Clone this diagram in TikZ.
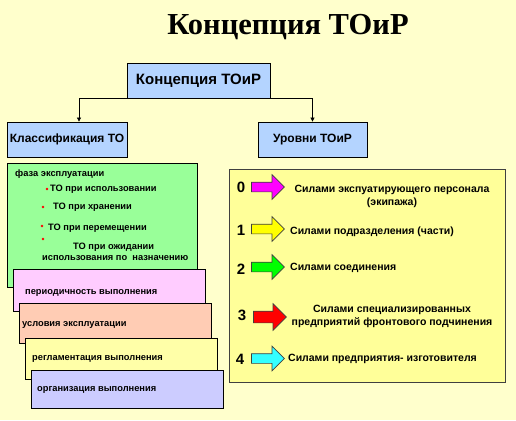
\documentclass[tikz,border=0pt]{standalone}
\usepackage{fontspec}
\setmainfont{Liberation Sans}
\newfontfamily\titlefont{Liberation Serif}
\usetikzlibrary{positioning,shapes.arrows,arrows.meta}
\definecolor{bgcream}{HTML}{FFFFCC}
\definecolor{boxblue}{HTML}{B4D4FF}
\definecolor{phasegreen}{HTML}{99FF99}
\definecolor{subpink}{HTML}{FFCCFF}
\definecolor{subpeach}{HTML}{FFCCB4}
\definecolor{subyellow}{HTML}{FFFFA8}
\definecolor{sublilac}{HTML}{CCCCFF}
\definecolor{levyellow}{HTML}{FFFF99}
\definecolor{edgegrey}{HTML}{404040}
\definecolor{arrmagenta}{HTML}{FF00FF}
\definecolor{arryellow}{HTML}{FFFF00}
\definecolor{arrgreen}{HTML}{00FF00}
\definecolor{arrred}{HTML}{FF0000}
\definecolor{arrcyan}{HTML}{33FFFF}
\tikzset{
  hbox/.style={draw=black, fill=boxblue, line width=0.8pt, inner sep=0pt,
               font=\bfseries\fontsize{12}{14}\selectfont},
  sbox/.style={draw=black, line width=0.8pt, inner sep=0pt,
               minimum width=192pt},
  txt/.style={inner sep=0pt, font=\bfseries\fontsize{9.3}{11}\selectfont},
  ltxt/.style={inner sep=0pt, align=center,
               font=\bfseries\fontsize{10.5}{13}\selectfont},
  lnum/.style={inner sep=0pt, font=\bfseries\fontsize{15}{17}\selectfont},
  larrow/.style={single arrow, draw=edgegrey, line width=0.7pt,
                 inner xsep=0pt, inner ysep=4.5pt,
                 minimum height=33pt, minimum width=24pt,
                 single arrow head extend=7.5pt, single arrow head indent=0pt},
  rdot/.style={circle, fill=arrred, inner sep=0pt, minimum size=2.6pt},
  link/.style={line width=0.7pt, draw=black,
               -{Triangle[length=4pt, width=4pt]}}
}
\begin{document}
\begin{tikzpicture}[x=1pt, y=-1pt]
  \fill[bgcream] (0,0) rectangle (516,420);
  \useasboundingbox (0,0) rectangle (516,420);
  % title and tree
  \node[font=\titlefont\bfseries\fontsize{30.5}{34}\selectfont] (title) at (288,27) {Концепция ТОиР};
  \node[hbox, minimum width=143pt, minimum height=35pt,
        font=\bfseries\fontsize{15}{17}\selectfont] (top) at (198.5,80.5) {Концепция ТОиР};
  \node[hbox, minimum width=120pt, minimum height=35pt] (klass) at (67,139.5) {Классификация ТО};
  \node[hbox, minimum width=109pt, minimum height=35pt] (urov) at (312.5,139.5) {Уровни ТОиР};
  \draw[link] (top.south) -| ([xshift=12pt]klass.north);
  \draw[link] (top.south) -| (urov.north);
  % phase box
  \node[sbox, fill=phasegreen, minimum width=190pt, minimum height=124pt] (phase) at (102,225) {};
  \node[txt, anchor=west] (phtitle) at (15,174) {фаза эксплуатации};
  \node[rdot] (b1) at (47,189) {};
  \node[rdot] (b2) at (43,207) {};
  \node[rdot] (b3) at (42,226) {};
  \node[rdot] (b4) at (43,239) {};
  \node[txt, anchor=west] (ph1) at (50,189) {ТО при использовании};
  \node[txt, anchor=west] (ph2) at (53,207) {ТО при хранении};
  \node[txt, anchor=west] (ph3) at (48,228) {ТО при перемещении};
  \node[txt, anchor=west] (ph4) at (73,247) {ТО при ожидании};
  \node[txt, anchor=west] (ph5) at (42,258) {использования по\ \ назначению};
  % stacked boxes
  \node[sbox, fill=subpink, minimum height=42pt] (period) at (109,290) {};
  \node[txt, anchor=west] (periodt) at (25,293) {периодичность выполнения};
  \node[sbox, fill=subpeach, minimum height=40pt] (uslov) at (115,323) {};
  \node[txt, anchor=west] (uslovt) at (22,325) {условия эксплуатации};
  \node[sbox, fill=subyellow, minimum height=41pt] (reglam) at (121,358.5) {};
  \node[txt, anchor=west] (reglamt) at (32,359) {регламентация выполнения};
  \node[sbox, fill=sublilac, minimum height=38pt] (organ) at (127,389) {};
  \node[txt, anchor=west] (organt) at (37,390) {организация выполнения};
  % levels box
  \node[draw=edgegrey, line width=1pt, fill=levyellow, minimum width=276pt,
        minimum height=213pt] (levels) at (367,275.5) {};
  \node[lnum] (n0) at (241,187) {0};
  \node[lnum] (n1) at (241,230) {1};
  \node[lnum] (n2) at (241,269) {2};
  \node[lnum] (n3) at (242,315) {3};
  \node[lnum] (n4) at (240,359) {4};
  \node[larrow, fill=arrmagenta] (a0) at (265.5,187) {};
  \node[larrow, fill=arryellow] (a1) at (265.5,229) {};
  \node[larrow, fill=arrgreen] (a2) at (265.5,267) {};
  \node[larrow, fill=arrred, inner ysep=5.5pt] (a3) at (267,317) {};
  \node[larrow, fill=arrcyan] (a4) at (265.5,358.5) {};
  \node[ltxt] (l0) at (392,196.5) {Силами экспуатирующего персонала\\(экипажа)};
  \node[ltxt, anchor=west] (l1) at (290,232) {Силами подразделения (части)};
  \node[ltxt, anchor=west] (l2) at (290,268) {Силами соединения};
  \node[ltxt] (l3) at (392,316) {Силами специализированных\\предприятий фронтового подчинения};
  \node[ltxt, anchor=west] (l4) at (288,359) {Силами предприятия- изготовителя};
\end{tikzpicture}
\end{document}
